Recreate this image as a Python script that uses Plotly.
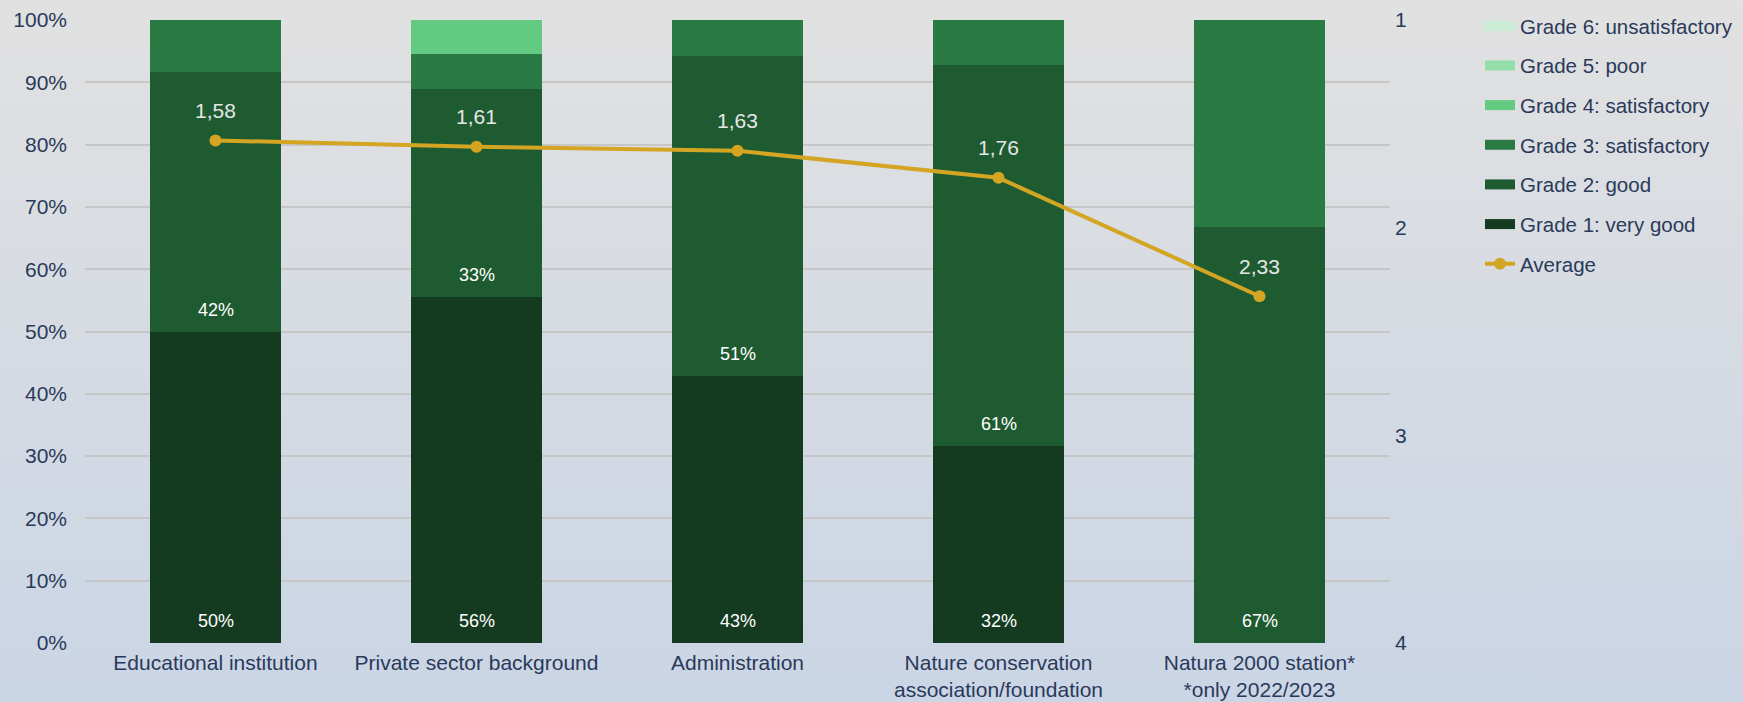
import base64
import plotly.graph_objects as go

# categories and shares (% of respondents per grade)
categories = ["Educational institution", "Private sector background", "Administration",
              "Nature conservation<br>association/foundation", "Natura 2000 station*<br>*only 2022/2023"]
grade1 = [50.0, 55.6, 42.9, 31.7, 0.0]
grade2 = [41.7, 33.3, 51.4, 61.0, 66.7]
grade3 = [8.3, 5.6, 5.7, 7.3, 33.3]
grade4 = [0.0, 5.5, 0.0, 0.0, 0.0]
grade5 = [0.0, 0.0, 0.0, 0.0, 0.0]
grade6 = [0.0, 0.0, 0.0, 0.0, 0.0]
average = [1.58, 1.61, 1.63, 1.76, 2.33]

names = ["Grade 1: very good", "Grade 2: good", "Grade 3: satisfactory",
         "Grade 4: satisfactory", "Grade 5: poor", "Grade 6: unsatisfactory"]
colors = ["#143b20", "#1f5b31", "#2a7a43", "#63ca82", "#96dea9", "#c9eed4"]
series = [grade1, grade2, grade3, grade4, grade5, grade6]
gold = "#d4a522"

fig = go.Figure()

base = [0.0] * len(categories)
for i, (nm, col, vals) in enumerate(zip(names, colors, series)):
    fig.add_trace(go.Bar(x=categories, y=vals, name=nm, marker_color=col,
                         marker_line_width=0, width=0.5, showlegend=False))
    # legend entry drawn as a thick line like the original
    fig.add_trace(go.Scatter(x=[None], y=[None], mode="lines", name=nm,
                             line=dict(color=col, width=10), legendrank=6 - i,
                             legendgroup=nm))
    # percent labels at the base of grade 1 and grade 2 segments
    if i < 2:
        for c, b, v in zip(categories, base, vals):
            if v > 0:
                fig.add_annotation(x=c, y=b, text=f"{round(v)}%", showarrow=False,
                                   yshift=22, font=dict(color="white", size=18))
    base = [b + v for b, v in zip(base, vals)]

fig.add_trace(go.Scatter(x=categories, y=average, name="Average", yaxis="y2",
                         mode="lines+markers", legendrank=7, legendgroup="avg",
                         line=dict(color=gold, width=4),
                         marker=dict(color=gold, size=12)))

# average value labels above the markers
for c, v in zip(categories, average):
    fig.add_annotation(x=c, y=v, yref="y2", text=f"{v:.2f}".replace(".", ","),
                       showarrow=False, yshift=30, font=dict(color="#e6e6e6", size=21))

svg = ('<svg xmlns="http://www.w3.org/2000/svg" width="100" height="100" preserveAspectRatio="none">'
       '<defs><linearGradient id="g" x1="0" y1="0" x2="0" y2="1">'
       '<stop offset="0" stop-color="#e1e1e1"/><stop offset="1" stop-color="#cad5e5"/>'
       '</linearGradient></defs><rect width="100" height="100" fill="url(#g)"/></svg>')
uri = "data:image/svg+xml;base64," + base64.b64encode(svg.encode()).decode()

L, R, T, B = 85, 353, 20, 59
W, H = 1743, 702
pw, ph = W - L - R, H - T - B

fig.update_layout(
    width=W, height=H,
    barmode="stack",
    margin=dict(l=L, r=R, t=T, b=B),
    paper_bgcolor="rgba(0,0,0,0)",
    plot_bgcolor="rgba(0,0,0,0)",
    font=dict(family="Arial, Liberation Sans", size=21, color="#2a3a5a"),
    images=[dict(source=uri, xref="paper", yref="paper", x=-L / pw, y=1 + T / ph,
                 sizex=W / pw, sizey=H / ph, sizing="stretch", layer="below",
                 xanchor="left", yanchor="top")],
    xaxis=dict(showgrid=False, ticks="", showline=False, ticklabelstandoff=5,
               automargin=False),
    yaxis=dict(range=[0, 100], dtick=10, ticksuffix="%", gridcolor="#c6c6c6",
               gridwidth=1.5, zeroline=False, showline=False, ticklabelstandoff=17,
               automargin=False),
    yaxis2=dict(overlaying="y", side="right", range=[4, 1], dtick=1, showgrid=False,
                zeroline=False, ticklabelstandoff=4, automargin=False),
    legend=dict(xref="container", yref="container", x=1480 / W, y=1 - 6 / H,
                xanchor="left", yanchor="top", font=dict(size=20.5),
                traceorder="grouped", tracegroupgap=10, bgcolor="rgba(0,0,0,0)"),
    showlegend=True,
)

fig.write_html("out.html", config={"displayModeBar": False},
               post_script="document.body.style.margin='0';")
